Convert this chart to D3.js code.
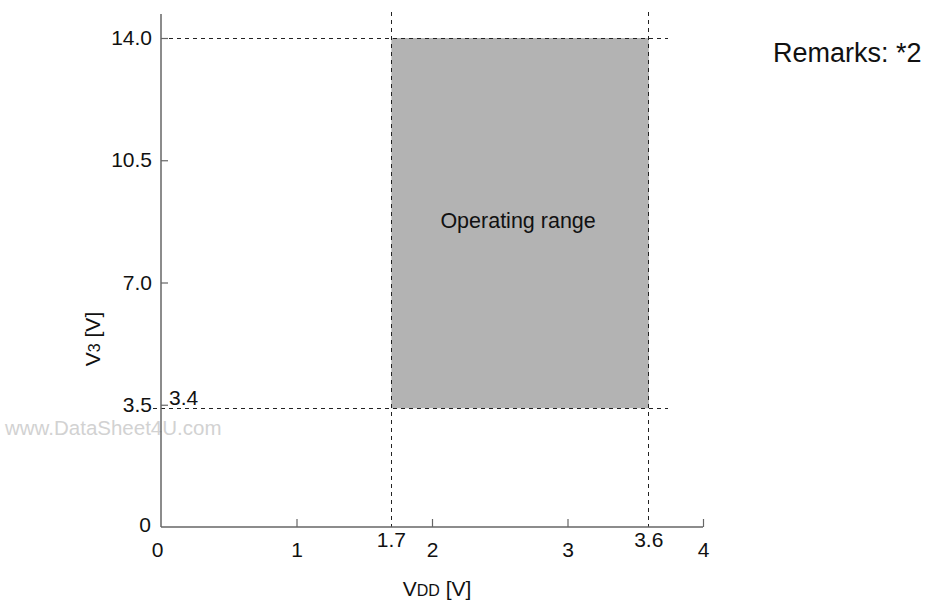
<!DOCTYPE html>
<html><head><meta charset="utf-8">
<script src="https://cdn.jsdelivr.net/npm/d3@7"></script>
<style>
body{margin:0;background:#fff;}
text{font-family:"Liberation Sans",Arial,sans-serif;}
</style></head>
<body><svg id="c" width="931" height="601"></svg>
<script>
// Data
const xTicks = [0, 1, 2, 3, 4];
const xTickLabels = ["0", "1", "2", "3", "4"];
const yTicks = [0, 3.5, 7.0, 10.5, 14.0];
const yTickLabels = ["0", "3.5", "7.0", "10.5", "14.0"];
const vddRange = [1.7, 3.6];
const v3Range = [3.4, 14.0];
const vddRangeLabels = ["1.7", "3.6"];
const v3MinLabel = "3.4";
const regionLabel = "Operating range";
const remarks = "Remarks: *2";
const watermark = "www.DataSheet4U.com";

const svg = d3.select("#c");
const x = d3.scaleLinear().domain([0, 4]).range([161, 703]);
const y = d3.scaleLinear().domain([0, 14]).range([527, 38]);
const axisColor = "#666";
const fs = 21;

// operating range rectangle
svg.append("rect")
  .attr("x", x(vddRange[0])).attr("y", y(v3Range[1]))
  .attr("width", x(vddRange[1]) - x(vddRange[0]))
  .attr("height", y(v3Range[0]) - y(v3Range[1]))
  .attr("fill", "#b3b3b3");

// watermark
svg.append("text").attr("x", 5).attr("y", 435)
  .attr("font-size", 20.5).attr("fill", "#d2d2d2").text(watermark);

// dashed guide lines
const dash = "4,4";
vddRange.forEach(v => {
  svg.append("line").attr("x1", x(v)).attr("x2", x(v))
    .attr("y1", y(14) - 26).attr("y2", y(0))
    .attr("stroke", "#222").attr("stroke-width", 1).attr("stroke-dasharray", dash)
    .attr("shape-rendering", "crispEdges");
});
v3Range.forEach((v, i) => {
  svg.append("line").attr("x1", i === 0 ? x(0) - 8 : x(0)).attr("x2", x(4) - 35)
    .attr("y1", y(v)).attr("y2", y(v))
    .attr("stroke", "#222").attr("stroke-width", 1).attr("stroke-dasharray", dash)
    .attr("shape-rendering", "crispEdges");
});

// axes
const gx = svg.append("g").attr("transform", `translate(0,${y(0)})`)
  .call(d3.axisBottom(x).tickValues(xTicks).tickSize(0).tickPadding(0).tickFormat((d, i) => xTickLabels[i]));
gx.select(".domain").remove();
gx.selectAll("text").attr("font-size", fs).attr("fill", "#111").attr("dy", null).attr("y", 30)
  .attr("font-family", "Liberation Sans, Arial, sans-serif");
gx.selectAll(".tick").filter(d => d === 0).select("text").attr("dx", -4);
gx.selectAll(".tick").filter(d => d !== 0).append("line")
  .attr("y1", 0).attr("y2", -8).attr("stroke", axisColor).attr("stroke-width", 1.2);

const gy = svg.append("g").attr("transform", `translate(${x(0)},0)`)
  .call(d3.axisLeft(y).tickValues(yTicks).tickSize(0).tickPadding(9).tickFormat((d, i) => yTickLabels[i]));
gy.select(".domain").remove();
gy.selectAll("text").attr("font-size", fs).attr("fill", "#111")
  .attr("font-family", "Liberation Sans, Arial, sans-serif");
gy.selectAll(".tick").filter(d => d === 0).select("text").attr("dy", "0.2em").attr("x", -10);
gy.selectAll(".tick").filter(d => d !== 0).append("line")
  .attr("x1", 0).attr("x2", 7).attr("stroke", axisColor).attr("stroke-width", 1.2);

// axis lines
svg.append("line").attr("x1", x(0)).attr("x2", x(0)).attr("y1", 14).attr("y2", y(0))
  .attr("stroke", axisColor).attr("stroke-width", 1.5);
svg.append("line").attr("x1", x(0)).attr("x2", x(4)).attr("y1", y(0)).attr("y2", y(0))
  .attr("stroke", axisColor).attr("stroke-width", 1.5);

// range value labels
vddRange.forEach((v, i) => {
  svg.append("text").attr("x", x(v)).attr("y", y(0) + 20)
    .attr("text-anchor", "middle").attr("font-size", fs).attr("fill", "#111")
    .text(vddRangeLabels[i]);
});
svg.append("text").attr("x", x(0) + 8).attr("y", y(v3Range[0]) - 3)
  .attr("font-size", fs).attr("fill", "#111").text(v3MinLabel);

// region label
svg.append("text")
  .attr("x", (x(vddRange[0]) + x(vddRange[1])) / 2 - 2)
  .attr("y", y((v3Range[0] + v3Range[1]) / 2) + 5)
  .attr("text-anchor", "middle").attr("font-size", 21.5).attr("fill", "#111")
  .text(regionLabel);

// axis titles
const xt = svg.append("text").attr("x", 437).attr("y", 596)
  .attr("text-anchor", "middle").attr("font-size", fs).attr("fill", "#111");
xt.append("tspan").text("V");
xt.append("tspan").attr("font-size", 16).text("DD");
xt.append("tspan").text(" [V]");

const yt = svg.append("text").attr("transform", "translate(100,339) rotate(-90)")
  .attr("text-anchor", "middle").attr("font-size", fs).attr("fill", "#111");
yt.append("tspan").text("V");
yt.append("tspan").attr("font-size", 16).text("3");
yt.append("tspan").text(" [V]");

// remarks
svg.append("text").attr("x", 773).attr("y", 62)
  .attr("font-size", 27).attr("fill", "#111").text(remarks);
</script></body></html>
